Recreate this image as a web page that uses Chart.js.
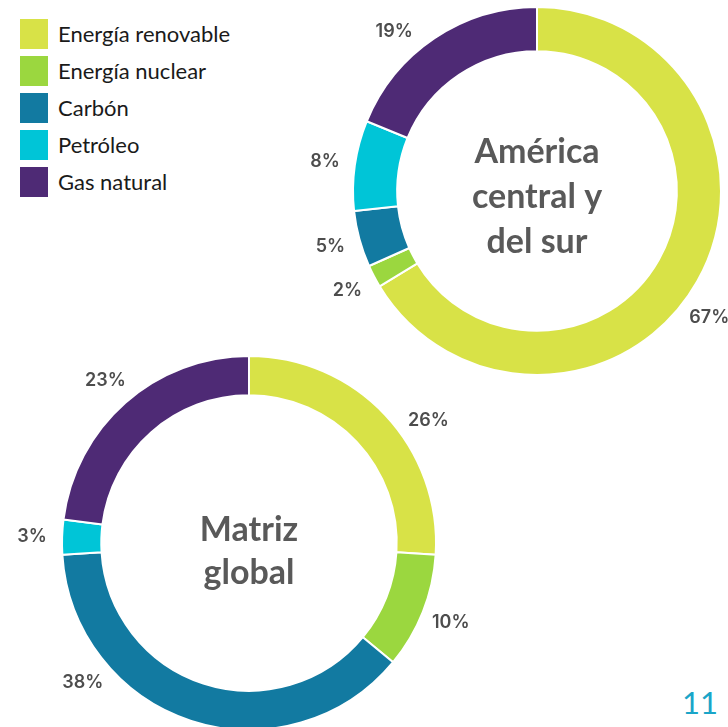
<!DOCTYPE html>
<html lang="es">
<head>
<meta charset="utf-8">
<title>Matriz energética</title>
<script src="https://cdn.jsdelivr.net/npm/chart.js@4.4.1/dist/chart.umd.min.js"></script>
<style>
    html, body { margin: 0; padding: 0; background: #fff; overflow: hidden; }
    #pagina { position: relative; width: 728px; height: 727px; overflow: hidden; }
    canvas { position: absolute; }
    #graficoAmerica { left: 300px; top: 0px; }
    #graficoGlobal { left: 0px; top: 330px; }
    #leyenda { position: absolute; left: 20px; top: 15px; margin: 0; padding: 0; list-style: none;
        font-family: Lato, "Noto Sans", sans-serif; font-size: 22px; color: #1a1a1a; }
    #leyenda li { display: flex; align-items: center; height: 37px; }
    #leyenda span.cuadro { display: inline-block; width: 28px; height: 30px; margin-right: 10px; }
    #numeroPagina { position: absolute; right: 10px; bottom: 6px; font-family: Lato, sans-serif;
        font-size: 31px; color: #1aa5c8; }
</style>
</head>
<body>
<div id="pagina">
    <ul id="leyenda"></ul>
    <canvas id="graficoGlobal" width="480" height="440"></canvas>
    <canvas id="graficoAmerica" width="428" height="384"></canvas>
    <div id="numeroPagina">11</div>
</div>
<script>
// Datos
const categorias = ["Energía renovable", "Energía nuclear", "Carbón", "Petróleo", "Gas natural"];
const valoresAmerica = [67, 2, 5, 8, 19];
const valoresGlobal = [26, 10, 38, 3, 23];
const tituloAmerica = ["América", "central y", "del sur"];
const tituloGlobal = ["Matriz", "global"];
const colores = ["#d8e247", "#9bd73f", "#127aa1", "#00c5d7", "#4e2a75"];


// =============================
// Leyenda en HTML
// =============================
let leyenda = document.getElementById("leyenda");
categorias.forEach((cat, i) => {
    let li = document.createElement("li");
    li.innerHTML = `<span class="cuadro" style="background:${colores[i]}"></span>${cat}`;
    leyenda.appendChild(li);
});


// Plugin: porcentajes fuera del anillo + texto central
const pluginEtiquetas = {
    id: "etiquetas",
    afterDatasetsDraw(chart, args, opts) {
        const ctx = chart.ctx;
        const meta = chart.getDatasetMeta(0);
        const valores = chart.data.datasets[0].data;
        const ajustes = opts.ajustes || {};

        ctx.save();
        ctx.font = "600 18px Inter, Roboto, sans-serif";
        ctx.fillStyle = "#4d4d4d";
        ctx.textAlign = "center";
        ctx.textBaseline = "middle";
        meta.data.forEach((arco, i) => {
            const p = arco.getProps(["x", "y", "startAngle", "endAngle", "outerRadius"], true);
            const ang = (p.startAngle + p.endAngle) / 2 + (ajustes[i] || 0) * Math.PI / 180;
            const d = p.outerRadius + opts.distancia;
            ctx.fillText(valores[i] + "%", p.x + Math.cos(ang) * d, p.y + Math.sin(ang) * d);
        });

        // titulo en el centro
        const centro = meta.data[0];
        const lineas = opts.titulo;
        ctx.font = "bold 34px Lato, sans-serif";
        ctx.fillStyle = "#595959";
        const alto = opts.interlineado;
        const y0 = centro.y + opts.desplazamiento - (lineas.length - 1) * alto / 2;
        lineas.forEach((l, i) => ctx.fillText(l, centro.x, y0 + i * alto));
        ctx.restore();
    }
};

function crearGrafico(id, valores, padding, cutout, opcionesEtiquetas) {
    const ctx = document.getElementById(id).getContext("2d");
    return new Chart(ctx, {
        type: "doughnut",
        data: {
            labels: categorias,
            datasets: [{
                data: valores,
                backgroundColor: colores,
                borderColor: "#ffffff",
                borderWidth: 2
            }]
        },
        options: {
            responsive: false,
            animation: false,
            events: [],
            cutout: cutout,
            layout: { padding: padding },
            plugins: {
                legend: { display: false },
                tooltip: { enabled: false },
                etiquetas: opcionesEtiquetas
            }
        },
        plugins: [pluginEtiquetas]
    });
}

crearGrafico("graficoAmerica", valoresAmerica,
    { left: 52, right: 6, top: 6, bottom: 8 }, "76%",
    { distancia: 30, ajustes: { 0: 7, 4: -8 }, titulo: tituloAmerica, interlineado: 45, desplazamiento: 6 });

crearGrafico("graficoGlobal", valoresGlobal,
    { left: 61, right: 43, top: 25, bottom: 39 }, "79%",
    { distancia: 30, ajustes: { 0: 9, 2: 32 }, titulo: tituloGlobal, interlineado: 43, desplazamiento: 9 });
</script>
</body>
</html>
